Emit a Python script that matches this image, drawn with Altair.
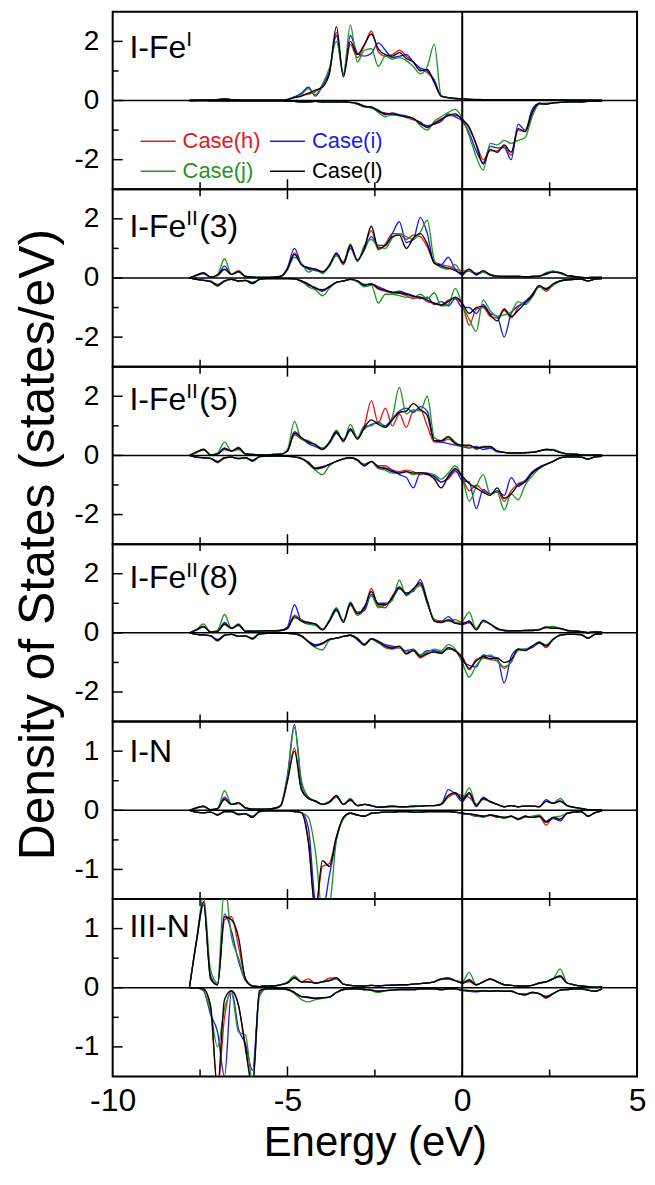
import altair as alt
import pandas as pd

# ---------------- data ----------------
ENERGY = [-7.8, -7.6, -7.4, -7.2, -7.0, -6.8, -6.6, -6.4, -6.2, -6.0,
          -5.8, -5.6, -5.4, -5.2, -5.0, -4.8, -4.6, -4.4, -4.2, -4.0,
          -3.8, -3.6, -3.4, -3.2, -3.0, -2.8, -2.6, -2.4, -2.2, -2.0,
          -1.8, -1.6, -1.4, -1.2, -1.0, -0.8, -0.6, -0.4, -0.2, 0.0,
          0.2, 0.4, 0.6, 0.8, 1.0, 1.2, 1.4, 1.6, 1.8, 2.0,
          2.2, 2.4, 2.6, 2.8, 3.0, 3.2, 3.4, 3.6, 3.8, 4.0]

CASES = ["h", "i", "j", "l"]
CASE_LABELS = ["Case(h)", "Case(i)", "Case(j)", "Case(l)"]
CASE_COLORS = ["#e8191c", "#1b1bf0", "#1f961f", "#000000"]

# ---- I-Fe^I ----
FE1_UP = dict(
    h=[0, 0.01, 0.02, 0.02, 0.04, 0.06, 0.03, 0.02, 0.01, 0.01,
       0.01, 0.01, 0.01, 0.01, 0.03, 0.12, 0.18, 0.22, 0.3, 0.5,
       0.95, 2.3, 0.85, 1.9, 1.45, 1.85, 2.35, 1.65, 1.5, 1.55,
       1.7, 1.5, 1.3, 1.05, 0.95, 0.65, 0.15, 0.1, 0.07, 0.05,
       0.04, 0.03, 0.03, 0.03, 0.03, 0.03, 0.03, 0.03, 0.02, 0.02,
       0.02, 0.02, 0.02, 0.02, 0.02, 0.01, 0.01, 0.01, 0.01, 0.01],
    i=[0, 0.01, 0.02, 0.02, 0.03, 0.04, 0.03, 0.02, 0.01, 0.01,
       0.01, 0.01, 0.01, 0.01, 0.04, 0.12, 0.25, 0.45, 0.15, 0.5,
       1.0, 2.2, 0.9, 2.2, 1.6, 1.5, 1.6, 1.95, 1.7, 1.45,
       1.5, 1.55, 1.3, 1.1, 1.0, 0.7, 0.15, 0.1, 0.06, 0.05,
       0.04, 0.04, 0.03, 0.03, 0.03, 0.03, 0.03, 0.03, 0.03, 0.03,
       0.03, 0.02, 0.02, 0.02, 0.02, 0.01, 0.01, 0.01, 0.01, 0.01],
    j=[0, 0.01, 0.02, 0.03, 0.03, 0.06, 0.03, 0.02, 0.01, 0.01,
       0.01, 0.01, 0.01, 0.01, 0.03, 0.1, 0.2, 0.4, 0.2, 0.55,
       1.1, 2.0, 0.9, 2.55, 1.3, 1.7, 1.75, 1.15, 1.5, 1.4,
       1.45, 1.35, 1.15, 0.9, 1.15, 1.9, 0.15, 0.1, 0.07, 0.05,
       0.04, 0.03, 0.03, 0.03, 0.03, 0.03, 0.03, 0.03, 0.03, 0.03,
       0.02, 0.02, 0.02, 0.02, 0.02, 0.01, 0.01, 0.01, 0.01, 0.01],
    l=[0, 0.01, 0.02, 0.02, 0.03, 0.05, 0.03, 0.02, 0.01, 0.01,
       0.01, 0.01, 0.01, 0.01, 0.03, 0.1, 0.15, 0.25, 0.35, 0.45,
       0.9, 2.5, 0.8, 2.0, 1.55, 1.9, 2.25, 1.75, 1.55, 1.5,
       1.62, 1.42, 1.3, 1.0, 1.05, 0.6, 0.15, 0.1, 0.07, 0.05,
       0.04, 0.03, 0.03, 0.03, 0.03, 0.03, 0.03, 0.03, 0.03, 0.03,
       0.02, 0.02, 0.02, 0.02, 0.02, 0.01, 0.01, 0.01, 0.01, 0.01],
)
FE1_DN = dict(
    h=[0, 0, 0, -0.01, -0.01, -0.01, -0.01, -0.01, -0.01, -0.01,
       -0.01, -0.01, -0.01, -0.01, -0.02, -0.03, -0.04, -0.04, -0.03, -0.05,
       -0.04, -0.05, -0.05, -0.06, -0.12, -0.22, -0.22, -0.38, -0.42, -0.48,
       -0.5, -0.58, -0.65, -0.72, -0.92, -0.75, -0.62, -0.52, -0.5, -0.62,
       -0.95, -1.45, -2.0, -1.7, -1.7, -1.55, -1.85, -1.0, -1.05, -0.45,
       -0.09, -0.13, -0.08, -0.06, -0.05, -0.04, -0.05, -0.03, -0.03, -0.02],
    i=[0, 0, 0, -0.01, -0.01, -0.01, -0.01, -0.01, -0.01, -0.01,
       -0.01, -0.01, -0.01, -0.01, -0.02, -0.03, -0.04, -0.04, -0.03, -0.05,
       -0.04, -0.05, -0.04, -0.06, -0.1, -0.18, -0.25, -0.32, -0.48, -0.42,
       -0.48, -0.52, -0.62, -0.75, -0.85, -0.8, -0.7, -0.45, -0.55, -0.7,
       -1.1, -1.7, -2.1, -1.55, -1.6, -1.6, -2.0, -0.8, -1.0, -0.3,
       -0.1, -0.1, -0.08, -0.06, -0.05, -0.04, -0.05, -0.03, -0.03, -0.02],
    j=[0, 0, 0, -0.01, -0.01, -0.01, -0.01, -0.01, -0.01, -0.01,
       -0.01, -0.01, -0.01, -0.01, -0.02, -0.03, -0.04, -0.04, -0.03, -0.05,
       -0.04, -0.05, -0.04, -0.07, -0.12, -0.2, -0.25, -0.4, -0.55, -0.48,
       -0.52, -0.55, -0.6, -0.85, -1.0, -0.7, -0.55, -0.4, -0.3, -0.6,
       -1.2, -1.9, -2.35, -1.45, -1.5, -1.35, -1.45, -1.35, -1.25, -0.55,
       -0.12, -0.1, -0.08, -0.06, -0.05, -0.04, -0.05, -0.03, -0.03, -0.02],
    l=[0, 0, 0, -0.01, -0.01, -0.01, -0.01, -0.01, -0.01, -0.01,
       -0.01, -0.01, -0.01, -0.01, -0.02, -0.03, -0.04, -0.04, -0.03, -0.05,
       -0.04, -0.05, -0.04, -0.06, -0.1, -0.2, -0.22, -0.35, -0.45, -0.45,
       -0.5, -0.55, -0.6, -0.78, -0.9, -0.78, -0.65, -0.5, -0.45, -0.65,
       -0.9, -1.5, -2.15, -1.65, -1.75, -1.5, -1.75, -0.95, -1.05, -0.4,
       -0.1, -0.12, -0.08, -0.06, -0.05, -0.04, -0.05, -0.03, -0.03, -0.02],
)

# ---- I-Fe^II(3) ----
FE2_UP = dict(
    h=[0, 0.1, 0.15, 0.03, 0.08, 0.28, 0.12, 0.25, 0.05, 0.03,
       0.02, 0.02, 0.03, 0.05, 0.28, 0.85, 0.45, 0.32, 0.3, 0.22,
       0.4, 0.8, 0.45, 1.05, 0.6, 1.05, 1.6, 0.95, 1.15, 1.5,
       1.5, 1.3, 1.45, 1.4, 1.05, 0.55, 0.45, 0.4, 0.3, 0.25,
       0.22, 0.15, 0.2, 0.12, 0.06, 0.05, 0.05, 0.06, 0.04, 0.05,
       0.06, 0.15, 0.2, 0.18, 0.08, 0.05, 0.02, 0.01, 0.02, 0.02],
    i=[0, 0.08, 0.15, 0.03, 0.1, 0.4, 0.12, 0.2, 0.05, 0.03,
       0.02, 0.02, 0.03, 0.05, 0.35, 1.0, 0.45, 0.3, 0.25, 0.2,
       0.45, 0.8, 0.5, 1.0, 0.6, 0.95, 1.4, 1.1, 1.1, 1.5,
       1.9, 1.2, 1.3, 2.05, 1.5, 0.5, 0.45, 0.7, 0.3, 0.1,
       0.3, 0.1, 0.2, 0.1, 0.05, 0.05, 0.05, 0.05, 0.04, 0.05,
       0.06, 0.12, 0.22, 0.18, 0.08, 0.05, 0.02, 0.01, 0.02, 0.02],
    j=[0, 0.1, 0.18, 0.03, 0.12, 0.65, 0.12, 0.2, 0.05, 0.03,
       0.02, 0.02, 0.03, 0.05, 0.3, 0.7, 0.5, 0.2, 0.3, 0.15,
       0.4, 0.75, 0.55, 1.15, 0.55, 1.1, 1.3, 1.05, 1.0, 1.35,
       1.5, 1.4, 1.3, 1.55, 1.95, 0.6, 0.35, 0.3, 0.45, 0.15,
       0.25, 0.15, 0.2, 0.12, 0.05, 0.05, 0.05, 0.05, 0.04, 0.05,
       0.06, 0.18, 0.24, 0.15, 0.08, 0.05, 0.02, 0.01, 0.02, 0.02],
    l=[0, 0.1, 0.17, 0.03, 0.1, 0.3, 0.12, 0.22, 0.05, 0.03,
       0.02, 0.02, 0.03, 0.05, 0.3, 0.8, 0.45, 0.35, 0.3, 0.2,
       0.42, 0.85, 0.5, 1.1, 0.6, 1.0, 1.75, 1.0, 1.1, 1.4,
       1.45, 1.0, 1.35, 1.5, 1.15, 0.5, 0.4, 0.33, 0.25, 0.15,
       0.3, 0.12, 0.25, 0.1, 0.06, 0.05, 0.05, 0.05, 0.04, 0.05,
       0.06, 0.15, 0.2, 0.18, 0.08, 0.05, 0.02, 0.01, 0.02, 0.02],
)
FE2_DN = dict(
    h=[0, -0.05, -0.08, -0.12, -0.28, -0.1, -0.05, -0.1, -0.08, -0.16,
       -0.05, -0.02, -0.02, -0.02, -0.02, -0.03, -0.1, -0.2, -0.35, -0.42,
       -0.3, -0.15, -0.1, -0.05, -0.12, -0.25, -0.22, -0.38, -0.45, -0.5,
       -0.52, -0.6, -0.7, -0.65, -0.8, -0.85, -0.9, -0.75, -0.7, -0.9,
       -1.6, -1.05, -1.0, -1.3, -1.35, -1.1, -1.35, -1.0, -0.8, -0.55,
       -0.28, -0.45, -0.22, -0.1, -0.06, -0.05, -0.04, -0.1, -0.04, -0.02],
    i=[0, -0.05, -0.08, -0.1, -0.22, -0.1, -0.05, -0.12, -0.08, -0.15,
       -0.05, -0.02, -0.02, -0.02, -0.02, -0.03, -0.12, -0.25, -0.32, -0.45,
       -0.28, -0.15, -0.1, -0.05, -0.1, -0.22, -0.2, -0.3, -0.4, -0.5,
       -0.45, -0.52, -0.6, -0.7, -0.65, -0.9, -0.8, -0.95, -0.7, -1.0,
       -1.0, -1.2, -0.9, -1.2, -1.3, -2.0, -1.2, -0.95, -0.8, -0.6,
       -0.3, -0.35, -0.22, -0.1, -0.06, -0.05, -0.04, -0.1, -0.04, -0.02],
    j=[0, -0.05, -0.08, -0.12, -0.25, -0.12, -0.05, -0.1, -0.1, -0.2,
       -0.05, -0.02, -0.02, -0.02, -0.02, -0.03, -0.1, -0.3, -0.4, -0.6,
       -0.35, -0.15, -0.1, -0.05, -0.12, -0.3, -0.25, -0.85, -0.55, -0.55,
       -0.6, -0.65, -0.65, -0.55, -0.7, -0.5, -0.95, -0.9, -0.35, -0.9,
       -1.4, -1.8, -0.75, -1.1, -1.3, -1.25, -1.15, -0.8, -0.9, -0.65,
       -0.3, -0.4, -0.25, -0.12, -0.06, -0.05, -0.04, -0.1, -0.04, -0.02],
    l=[0, -0.05, -0.08, -0.12, -0.25, -0.1, -0.05, -0.1, -0.08, -0.18,
       -0.05, -0.02, -0.02, -0.02, -0.02, -0.03, -0.1, -0.22, -0.35, -0.4,
       -0.3, -0.15, -0.1, -0.05, -0.1, -0.25, -0.2, -0.35, -0.42, -0.48,
       -0.5, -0.55, -0.62, -0.65, -0.75, -0.85, -0.92, -0.8, -0.65, -0.85,
       -1.2, -1.0, -0.95, -1.25, -1.45, -1.05, -1.3, -1.1, -0.85, -0.6,
       -0.25, -0.38, -0.2, -0.1, -0.06, -0.05, -0.04, -0.1, -0.04, -0.02],
)

# ---- I-Fe^II(5) ----
FE3_UP = dict(
    h=[0, 0.1, 0.22, 0.02, 0.05, 0.2, 0.15, 0.28, 0.05, 0.03,
       0.02, 0.02, 0.03, 0.04, 0.15, 0.7, 0.55, 0.45, 0.35, 0.22,
       0.42, 0.75, 0.55, 0.85, 0.6, 1.0, 1.85, 1.1, 1.6, 1.0,
       1.4, 0.95, 1.5, 1.55, 1.0, 0.45, 0.45, 0.55, 0.4, 0.3,
       0.32, 0.25, 0.3, 0.28, 0.15, 0.1, 0.08, 0.08, 0.09, 0.1,
       0.15, 0.2, 0.18, 0.1, 0.05, 0.04, 0.02, 0.01, 0.02, 0.01],
    i=[0, 0.1, 0.2, 0.02, 0.05, 0.25, 0.15, 0.22, 0.05, 0.03,
       0.02, 0.02, 0.03, 0.04, 0.15, 0.8, 0.6, 0.4, 0.3, 0.2,
       0.4, 0.75, 0.5, 0.85, 0.6, 0.9, 1.05, 1.1, 1.0, 1.25,
       1.5, 1.6, 1.45, 1.65, 1.5, 0.5, 0.45, 0.4, 0.35, 0.3,
       0.25, 0.3, 0.2, 0.25, 0.12, 0.1, 0.08, 0.08, 0.09, 0.1,
       0.15, 0.2, 0.18, 0.1, 0.05, 0.04, 0.02, 0.01, 0.02, 0.01],
    j=[0, 0.1, 0.18, 0.02, 0.08, 0.45, 0.15, 0.2, 0.05, 0.03,
       0.02, 0.02, 0.03, 0.04, 0.2, 1.15, 0.55, 0.5, 0.35, 0.25,
       0.45, 0.85, 0.45, 1.05, 0.6, 1.0, 1.0, 1.15, 0.95, 1.3,
       2.3, 1.4, 1.55, 1.5, 2.0, 0.6, 0.5, 0.65, 0.45, 0.3,
       0.35, 0.2, 0.3, 0.3, 0.15, 0.1, 0.08, 0.08, 0.1, 0.12,
       0.15, 0.2, 0.2, 0.12, 0.05, 0.04, 0.02, 0.01, 0.02, 0.01],
    l=[0, 0.12, 0.2, 0.02, 0.05, 0.22, 0.15, 0.25, 0.05, 0.03,
       0.02, 0.02, 0.03, 0.04, 0.15, 0.75, 0.6, 0.45, 0.37, 0.2,
       0.45, 0.8, 0.5, 0.9, 0.55, 0.95, 1.2, 1.05, 0.95, 1.2,
       1.45, 1.5, 1.75, 1.55, 1.35, 0.5, 0.5, 0.62, 0.4, 0.35,
       0.35, 0.25, 0.28, 0.3, 0.15, 0.1, 0.08, 0.08, 0.09, 0.1,
       0.15, 0.2, 0.18, 0.1, 0.05, 0.04, 0.02, 0.01, 0.02, 0.01],
)
FE3_DN = dict(
    h=[0, -0.06, -0.08, -0.1, -0.25, -0.08, -0.06, -0.1, -0.08, -0.2,
       -0.04, -0.02, -0.02, -0.02, -0.03, -0.05, -0.12, -0.22, -0.45, -0.42,
       -0.3, -0.2, -0.12, -0.08, -0.18, -0.35, -0.22, -0.35, -0.35, -0.5,
       -0.55, -0.5, -0.55, -0.65, -0.6, -0.75, -0.9, -0.8, -0.55, -0.75,
       -1.2, -1.0, -1.2, -1.3, -1.2, -1.55, -1.2, -0.95, -0.85, -0.6,
       -0.4, -0.3, -0.2, -0.08, -0.05, -0.05, -0.06, -0.12, -0.05, -0.03],
    i=[0, -0.06, -0.08, -0.1, -0.2, -0.08, -0.06, -0.1, -0.08, -0.16,
       -0.04, -0.02, -0.02, -0.02, -0.03, -0.05, -0.1, -0.25, -0.42, -0.38,
       -0.3, -0.2, -0.12, -0.08, -0.15, -0.3, -0.2, -0.4, -0.42, -0.5,
       -0.65, -0.75, -1.1, -0.6, -0.65, -0.7, -0.9, -0.75, -0.5, -0.85,
       -0.9, -1.8, -1.15, -1.3, -1.2, -1.35, -0.75, -1.05, -0.85, -0.55,
       -0.4, -0.3, -0.2, -0.08, -0.05, -0.05, -0.06, -0.12, -0.05, -0.03],
    j=[0, -0.06, -0.08, -0.1, -0.22, -0.1, -0.06, -0.12, -0.08, -0.18,
       -0.04, -0.02, -0.02, -0.02, -0.03, -0.05, -0.1, -0.3, -0.5, -0.65,
       -0.35, -0.2, -0.12, -0.08, -0.15, -0.35, -0.22, -0.45, -0.5, -0.6,
       -0.6, -0.55, -0.65, -0.6, -0.6, -0.65, -0.8, -0.6, -0.35, -0.75,
       -1.55, -1.05, -0.65, -1.3, -1.25, -1.85, -1.3, -1.5, -1.0, -0.7,
       -0.45, -0.3, -0.2, -0.08, -0.05, -0.05, -0.06, -0.12, -0.05, -0.03],
    l=[0, -0.06, -0.08, -0.1, -0.22, -0.08, -0.06, -0.1, -0.08, -0.18,
       -0.04, -0.02, -0.02, -0.02, -0.03, -0.05, -0.1, -0.25, -0.45, -0.4,
       -0.3, -0.2, -0.12, -0.08, -0.15, -0.35, -0.2, -0.4, -0.45, -0.55,
       -0.6, -0.55, -0.6, -0.58, -0.62, -0.8, -1.1, -0.7, -0.45, -0.7,
       -0.95, -1.1, -1.25, -1.35, -1.1, -1.45, -1.3, -1.0, -0.9, -0.6,
       -0.42, -0.3, -0.2, -0.08, -0.05, -0.05, -0.06, -0.12, -0.05, -0.03],
)

# ---- I-Fe^II(8) ----
FE4_UP = dict(
    h=[0, 0.1, 0.2, 0.03, 0.05, 0.28, 0.15, 0.3, 0.05, 0.06,
       0.06, 0.07, 0.07, 0.08, 0.15, 0.6, 0.42, 0.35, 0.28, 0.12,
       0.42, 0.75, 0.4, 0.95, 0.6, 0.8, 1.5, 0.9, 0.85, 1.25,
       1.5, 1.35, 1.45, 1.65, 1.0, 0.45, 0.4, 0.42, 0.45, 0.35,
       0.35, 0.15, 0.4, 0.28, 0.15, 0.08, 0.07, 0.07, 0.08, 0.08,
       0.1, 0.18, 0.16, 0.15, 0.08, 0.06, 0.04, 0.01, 0.03, 0.02],
    i=[0, 0.1, 0.2, 0.03, 0.05, 0.35, 0.15, 0.25, 0.05, 0.06,
       0.06, 0.07, 0.07, 0.08, 0.2, 0.95, 0.4, 0.3, 0.3, 0.12,
       0.38, 0.75, 0.4, 0.95, 0.7, 0.75, 1.3, 1.0, 1.0, 1.15,
       1.5, 1.35, 1.4, 1.8, 1.1, 0.4, 0.38, 0.55, 0.35, 0.28,
       0.35, 0.12, 0.38, 0.3, 0.12, 0.08, 0.07, 0.07, 0.08, 0.1,
       0.12, 0.2, 0.16, 0.14, 0.08, 0.06, 0.04, 0.01, 0.03, 0.02],
    j=[0, 0.12, 0.3, 0.03, 0.08, 0.62, 0.15, 0.25, 0.05, 0.06,
       0.06, 0.07, 0.07, 0.08, 0.15, 0.5, 0.45, 0.3, 0.25, 0.1,
       0.45, 0.85, 0.4, 1.05, 0.6, 0.9, 1.25, 0.85, 0.95, 1.1,
       1.78, 1.25, 1.45, 1.6, 1.0, 0.45, 0.35, 0.4, 0.35, 0.4,
       0.7, 0.12, 0.4, 0.3, 0.15, 0.08, 0.07, 0.07, 0.08, 0.08,
       0.1, 0.2, 0.22, 0.15, 0.08, 0.06, 0.04, 0.01, 0.03, 0.02],
    l=[0, 0.1, 0.22, 0.03, 0.05, 0.3, 0.15, 0.28, 0.05, 0.06,
       0.06, 0.07, 0.07, 0.08, 0.15, 0.55, 0.4, 0.35, 0.3, 0.1,
       0.4, 0.8, 0.35, 1.0, 0.65, 0.85, 1.4, 0.95, 0.95, 1.2,
       1.55, 1.3, 1.5, 1.7, 1.05, 0.4, 0.35, 0.45, 0.32, 0.3,
       0.4, 0.1, 0.43, 0.3, 0.15, 0.08, 0.07, 0.07, 0.08, 0.08,
       0.1, 0.18, 0.16, 0.15, 0.08, 0.06, 0.04, 0.01, 0.03, 0.02],
)
FE4_DN = dict(
    h=[0, -0.05, -0.07, -0.1, -0.28, -0.08, -0.05, -0.1, -0.1, -0.22,
       -0.03, -0.02, -0.02, -0.02, -0.02, -0.03, -0.1, -0.28, -0.42, -0.38,
       -0.22, -0.18, -0.12, -0.08, -0.22, -0.42, -0.2, -0.32, -0.5, -0.55,
       -0.5, -0.72, -0.6, -0.85, -0.72, -0.62, -0.68, -0.5, -0.62, -0.8,
       -1.25, -0.9, -0.85, -0.9, -0.95, -1.15, -1.0, -0.55, -0.6, -0.45,
       -0.32, -0.5, -0.22, -0.08, -0.05, -0.05, -0.06, -0.18, -0.05, -0.03],
    i=[0, -0.05, -0.07, -0.1, -0.22, -0.08, -0.05, -0.12, -0.1, -0.18,
       -0.03, -0.02, -0.02, -0.02, -0.02, -0.03, -0.12, -0.3, -0.4, -0.35,
       -0.22, -0.18, -0.12, -0.08, -0.18, -0.38, -0.2, -0.28, -0.4, -0.45,
       -0.5, -0.6, -0.55, -0.75, -0.6, -0.6, -0.65, -0.55, -0.6, -0.95,
       -1.1, -1.15, -0.75, -0.8, -0.85, -1.7, -0.8, -0.55, -0.55, -0.5,
       -0.35, -0.42, -0.22, -0.08, -0.05, -0.05, -0.06, -0.18, -0.05, -0.03],
    j=[0, -0.05, -0.08, -0.1, -0.25, -0.1, -0.05, -0.12, -0.12, -0.2,
       -0.03, -0.02, -0.02, -0.02, -0.02, -0.03, -0.1, -0.32, -0.5, -0.58,
       -0.25, -0.18, -0.12, -0.08, -0.25, -0.4, -0.22, -0.35, -0.45, -0.5,
       -0.5, -0.65, -0.6, -0.75, -0.65, -0.55, -0.6, -0.4, -0.55, -1.0,
       -1.5, -1.1, -0.85, -0.75, -0.95, -1.2, -0.95, -0.6, -0.55, -0.45,
       -0.3, -0.4, -0.22, -0.08, -0.05, -0.05, -0.06, -0.18, -0.05, -0.03],
    l=[0, -0.05, -0.07, -0.1, -0.25, -0.08, -0.05, -0.12, -0.1, -0.2,
       -0.03, -0.02, -0.02, -0.02, -0.02, -0.03, -0.1, -0.3, -0.45, -0.35,
       -0.22, -0.18, -0.12, -0.08, -0.2, -0.4, -0.2, -0.3, -0.45, -0.52,
       -0.45, -0.7, -0.6, -0.8, -0.7, -0.65, -0.7, -0.5, -0.6, -0.85,
       -1.2, -0.95, -0.8, -0.87, -0.85, -1.0, -0.9, -0.55, -0.6, -0.45,
       -0.32, -0.45, -0.22, -0.08, -0.05, -0.05, -0.06, -0.18, -0.05, -0.03],
)

# ---- I-N ----
N1_UP = dict(
    h=[0, 0.04, 0.07, 0.01, 0.03, 0.2, 0.1, 0.12, 0.04, 0.02,
       0.02, 0.02, 0.03, 0.07, 0.5, 1.05, 0.35, 0.2, 0.15, 0.1,
       0.15, 0.22, 0.1, 0.17, 0.08, 0.1, 0.08, 0.05, 0.06, 0.07,
       0.06, 0.06, 0.07, 0.07, 0.08, 0.08, 0.1, 0.22, 0.28, 0.25,
       0.22, 0.1, 0.2, 0.14, 0.1, 0.06, 0.08, 0.06, 0.07, 0.07,
       0.06, 0.16, 0.12, 0.15, 0.08, 0.05, 0.03, 0.01, 0.01, 0.01],
    i=[0, 0.04, 0.06, 0.01, 0.03, 0.22, 0.1, 0.12, 0.04, 0.02,
       0.02, 0.02, 0.03, 0.08, 0.6, 1.45, 0.45, 0.22, 0.15, 0.1,
       0.13, 0.24, 0.1, 0.17, 0.08, 0.1, 0.08, 0.06, 0.06, 0.06,
       0.06, 0.06, 0.06, 0.07, 0.08, 0.08, 0.1, 0.35, 0.28, 0.15,
       0.28, 0.06, 0.22, 0.14, 0.1, 0.06, 0.08, 0.06, 0.07, 0.07,
       0.06, 0.18, 0.12, 0.15, 0.08, 0.05, 0.03, 0.01, 0.01, 0.01],
    j=[0, 0.05, 0.06, 0.01, 0.03, 0.33, 0.1, 0.12, 0.04, 0.02,
       0.02, 0.02, 0.03, 0.07, 0.55, 1.4, 0.5, 0.22, 0.16, 0.1,
       0.15, 0.24, 0.1, 0.2, 0.08, 0.1, 0.08, 0.05, 0.06, 0.07,
       0.06, 0.06, 0.07, 0.07, 0.08, 0.08, 0.12, 0.25, 0.3, 0.2,
       0.38, 0.1, 0.18, 0.15, 0.1, 0.06, 0.08, 0.06, 0.07, 0.07,
       0.06, 0.15, 0.12, 0.2, 0.08, 0.05, 0.03, 0.01, 0.01, 0.01],
    l=[0, 0.04, 0.07, 0.01, 0.03, 0.18, 0.1, 0.13, 0.04, 0.02,
       0.02, 0.02, 0.03, 0.07, 0.5, 1.0, 0.35, 0.2, 0.16, 0.1,
       0.14, 0.25, 0.1, 0.18, 0.08, 0.1, 0.08, 0.05, 0.06, 0.07,
       0.06, 0.06, 0.07, 0.07, 0.08, 0.08, 0.1, 0.25, 0.3, 0.18,
       0.3, 0.08, 0.2, 0.15, 0.1, 0.06, 0.08, 0.06, 0.07, 0.07,
       0.06, 0.15, 0.12, 0.16, 0.08, 0.05, 0.03, 0.01, 0.01, 0.01],
)
N1_DN = dict(
    h=[0, -0.03, -0.04, -0.03, -0.08, -0.02, -0.02, -0.07, -0.06, -0.12,
       -0.02, -0.01, -0.01, -0.01, -0.01, -0.02, -0.04, -0.5, -1.7, -0.95,
       -0.9, -0.45, -0.12, -0.05, -0.08, -0.1, -0.05, -0.04, -0.03, -0.03,
       -0.02, -0.02, -0.03, -0.03, -0.02, -0.02, -0.02, -0.02, -0.03, -0.05,
       -0.06, -0.08, -0.1, -0.09, -0.1, -0.12, -0.1, -0.14, -0.1, -0.12,
       -0.1, -0.25, -0.12, -0.15, -0.05, -0.03, -0.02, -0.1, -0.04, -0.01],
    i=[0, -0.03, -0.04, -0.03, -0.07, -0.02, -0.02, -0.06, -0.06, -0.1,
       -0.02, -0.01, -0.01, -0.01, -0.01, -0.02, -0.04, -0.3, -1.55, -1.7,
       -1.1, -0.5, -0.13, -0.05, -0.08, -0.1, -0.05, -0.04, -0.03, -0.03,
       -0.02, -0.02, -0.03, -0.03, -0.02, -0.02, -0.02, -0.02, -0.03, -0.06,
       -0.07, -0.1, -0.1, -0.08, -0.12, -0.12, -0.1, -0.15, -0.1, -0.12,
       -0.1, -0.2, -0.14, -0.18, -0.05, -0.03, -0.02, -0.1, -0.04, -0.01],
    j=[0, -0.03, -0.05, -0.03, -0.08, -0.02, -0.02, -0.08, -0.06, -0.12,
       -0.02, -0.01, -0.01, -0.01, -0.01, -0.02, -0.04, -0.12, -0.7, -1.7,
       -1.6, -0.5, -0.15, -0.05, -0.08, -0.1, -0.05, -0.04, -0.03, -0.03,
       -0.02, -0.02, -0.03, -0.03, -0.02, -0.02, -0.02, -0.02, -0.03, -0.05,
       -0.06, -0.09, -0.12, -0.08, -0.1, -0.14, -0.1, -0.16, -0.12, -0.1,
       -0.08, -0.18, -0.12, -0.1, -0.05, -0.03, -0.02, -0.1, -0.04, -0.01],
    l=[0, -0.03, -0.04, -0.03, -0.08, -0.02, -0.02, -0.07, -0.06, -0.12,
       -0.02, -0.01, -0.01, -0.01, -0.01, -0.02, -0.04, -0.55, -1.7, -0.85,
       -0.95, -0.45, -0.12, -0.05, -0.08, -0.1, -0.05, -0.04, -0.03, -0.03,
       -0.02, -0.02, -0.03, -0.03, -0.02, -0.02, -0.02, -0.02, -0.03, -0.05,
       -0.06, -0.08, -0.1, -0.08, -0.1, -0.12, -0.1, -0.15, -0.1, -0.12,
       -0.1, -0.2, -0.12, -0.15, -0.05, -0.03, -0.02, -0.1, -0.04, -0.01],
)

# ---- III-N ----
N2_UP = dict(
    h=[0.02, 0.8, 1.45, 0.18, 0.05, 1.15, 1.2, 0.7, 0.15, 0.03,
       0.02, 0.03, 0.03, 0.05, 0.08, 0.16, 0.1, 0.15, 0.08, 0.1,
       0.16, 0.17, 0.06, 0.04, 0.03, 0.03, 0.04, 0.03, 0.04, 0.04,
       0.05, 0.05, 0.06, 0.07, 0.08, 0.1, 0.14, 0.15, 0.12, 0.08,
       0.1, 0.05, 0.1, 0.14, 0.1, 0.05, 0.04, 0.03, 0.03, 0.04,
       0.08, 0.1, 0.15, 0.18, 0.08, 0.05, 0.03, 0.02, 0.01, 0.02],
    i=[0.02, 0.78, 1.4, 0.2, 0.05, 1.25, 0.95, 0.45, 0.12, 0.03,
       0.02, 0.03, 0.03, 0.05, 0.08, 0.18, 0.1, 0.1, 0.08, 0.1,
       0.12, 0.15, 0.06, 0.04, 0.03, 0.03, 0.04, 0.03, 0.04, 0.05,
       0.05, 0.05, 0.06, 0.07, 0.08, 0.1, 0.15, 0.17, 0.12, 0.08,
       0.14, 0.05, 0.1, 0.15, 0.1, 0.05, 0.04, 0.03, 0.03, 0.04,
       0.08, 0.1, 0.16, 0.2, 0.08, 0.05, 0.03, 0.02, 0.01, 0.02],
    j=[0.02, 0.82, 1.55, 0.3, 0.08, 1.75, 0.85, 0.5, 0.12, 0.03,
       0.02, 0.03, 0.03, 0.05, 0.1, 0.2, 0.1, 0.1, 0.08, 0.1,
       0.12, 0.15, 0.06, 0.04, 0.03, 0.03, 0.04, 0.03, 0.04, 0.04,
       0.05, 0.05, 0.06, 0.07, 0.08, 0.1, 0.15, 0.15, 0.12, 0.1,
       0.26, 0.05, 0.1, 0.15, 0.1, 0.05, 0.04, 0.03, 0.03, 0.04,
       0.08, 0.1, 0.15, 0.32, 0.08, 0.05, 0.03, 0.02, 0.01, 0.02],
    l=[0.02, 0.8, 1.45, 0.15, 0.05, 1.2, 1.15, 0.85, 0.15, 0.03,
       0.02, 0.03, 0.03, 0.05, 0.08, 0.17, 0.1, 0.1, 0.08, 0.1,
       0.12, 0.17, 0.06, 0.04, 0.03, 0.03, 0.04, 0.03, 0.04, 0.04,
       0.05, 0.05, 0.06, 0.07, 0.08, 0.1, 0.15, 0.15, 0.12, 0.08,
       0.12, 0.05, 0.1, 0.15, 0.1, 0.05, 0.04, 0.03, 0.03, 0.04,
       0.08, 0.1, 0.15, 0.2, 0.08, 0.05, 0.03, 0.02, 0.01, 0.02],
)
N2_DN = dict(
    h=[0, 0, -0.02, -0.35, -1.7, -0.5, -0.05, -0.3, -1.05, -1.6,
       -0.05, -0.02, -0.02, -0.02, -0.03, -0.08, -0.15, -0.16, -0.18, -0.17,
       -0.16, -0.08, -0.03, -0.02, -0.02, -0.03, -0.04, -0.06, -0.05, -0.04,
       -0.03, -0.03, -0.03, -0.02, -0.02, -0.02, -0.03, -0.02, -0.02, -0.04,
       -0.05, -0.06, -0.05, -0.06, -0.05, -0.06, -0.06, -0.1, -0.12, -0.08,
       -0.1, -0.18, -0.1, -0.04, -0.03, -0.02, -0.02, -0.04, -0.06, -0.02],
    i=[0, 0, -0.05, -0.45, -0.75, -1.5, -0.05, -0.7, -0.95, -1.4,
       -0.1, -0.02, -0.02, -0.02, -0.03, -0.08, -0.15, -0.17, -0.18, -0.17,
       -0.16, -0.08, -0.03, -0.02, -0.02, -0.03, -0.04, -0.06, -0.05, -0.04,
       -0.03, -0.03, -0.03, -0.02, -0.02, -0.02, -0.03, -0.02, -0.02, -0.05,
       -0.06, -0.07, -0.05, -0.06, -0.05, -0.06, -0.06, -0.1, -0.12, -0.08,
       -0.1, -0.15, -0.1, -0.04, -0.03, -0.02, -0.02, -0.04, -0.06, -0.02],
    j=[0, 0, -0.05, -0.4, -1.0, -0.35, -0.1, -0.75, -0.8, -1.6,
       -0.15, -0.02, -0.02, -0.02, -0.03, -0.1, -0.2, -0.24, -0.2, -0.18,
       -0.16, -0.08, -0.03, -0.02, -0.02, -0.03, -0.05, -0.08, -0.05, -0.04,
       -0.03, -0.03, -0.03, -0.02, -0.02, -0.02, -0.03, -0.02, -0.02, -0.04,
       -0.05, -0.06, -0.05, -0.06, -0.05, -0.06, -0.06, -0.1, -0.1, -0.08,
       -0.1, -0.14, -0.1, -0.04, -0.03, -0.02, -0.02, -0.04, -0.06, -0.02],
    l=[0, 0, -0.02, -0.3, -1.7, -0.2, -0.05, -0.3, -1.0, -1.7,
       -0.05, -0.02, -0.02, -0.02, -0.03, -0.08, -0.15, -0.16, -0.18, -0.17,
       -0.16, -0.08, -0.03, -0.02, -0.02, -0.03, -0.04, -0.06, -0.05, -0.04,
       -0.03, -0.03, -0.03, -0.02, -0.02, -0.02, -0.03, -0.02, -0.02, -0.04,
       -0.05, -0.06, -0.05, -0.06, -0.05, -0.06, -0.06, -0.1, -0.12, -0.08,
       -0.1, -0.16, -0.1, -0.04, -0.03, -0.02, -0.02, -0.04, -0.06, -0.02],
)

PANEL_NAMES = ["I-Fe", "I-Fe", "I-Fe", "I-Fe", "I-N", "III-N"]
PANEL_SUPS = ["I", "II", "II", "II", "", ""]
PANEL_TAILS = ["", "(3)", "(5)", "(8)", "", ""]
PANEL_UP = [FE1_UP, FE2_UP, FE3_UP, FE4_UP, N1_UP, N2_UP]
PANEL_DN = [FE1_DN, FE2_DN, FE3_DN, FE4_DN, N1_DN, N2_DN]
PANEL_YMAX = [3, 3, 3, 3, 1.5, 1.5]
PANEL_MAJOR = [[-2, 0, 2]] * 4 + [[-1, 0, 1]] * 2
PANEL_MINOR = [[-1, 1]] * 4 + [[-0.5, 0.5]] * 2
X_MAJOR = [-5, 0]
X_MINOR = [-7.5, -2.5, 2.5]

for d in PANEL_UP + PANEL_DN:
    for c in CASES:
        assert len(d[c]) == len(ENERGY), (c, len(d[c]))

# ---------------- layout / style ----------------
FONT = "Liberation Sans, Arial, Helvetica, sans-serif"
W, H = 526, 178
PX_PER_EV = W / 15.0
XS = alt.Scale(domain=[-10, 5], nice=False, zero=False)
LABEL_E = -9.52
LABEL_Y = [1.45, 1.37, 1.55, 1.5, 0.81, 0.86]


def build_panel(k):
    ymax = PANEL_YMAX[k]
    ys = alt.Scale(domain=[-ymax, ymax], nice=False, zero=False)
    last = k == len(PANEL_NAMES) - 1
    if last:
        xaxis = alt.Axis(values=[-10, -5, 0, 5], labelExpr="'' + datum.value",
                         labelFontSize=32, labelPadding=9, labelFlush=False,
                         ticks=False, domain=False, grid=False,
                         labelFont=FONT, labelColor="black",
                         title="Energy (eV)", titleFont=FONT, titleFontSize=42,
                         titleFontWeight="normal", titleColor="black", titlePadding=6)
    else:
        xaxis = None
    ykw = dict(values=PANEL_MAJOR[k], labelExpr="'' + datum.value", labelFontSize=28,
               labelPadding=14, ticks=False, domain=False, grid=False,
               labelFont=FONT, labelColor="black")
    if k == 2:
        yaxis = alt.Axis(title="Density of States (states/eV)", titleFont=FONT,
                         titleFontSize=50, titleFontWeight="normal", titleColor="black",
                         titleX=-74, titleY=H, titleAngle=270, titleAlign="center",
                         titleBaseline="middle", **ykw)
    else:
        yaxis = alt.Axis(title=None, **ykw)

    def X(f):
        return alt.X(f, type="quantitative", scale=XS, axis=xaxis)

    def Y(f):
        return alt.Y(f, type="quantitative", scale=ys, axis=yaxis)

    layers = []
    # DOS curves, one layer per case so black ends on top
    for c, col in zip(CASES, CASE_COLORS):
        rows = []
        for spin, series in (("up", PANEL_UP[k][c]), ("dn", PANEL_DN[k][c])):
            for e, v in zip(ENERGY, series):
                rows.append({"E": e, "dos": v, "spin": spin})
        layers.append(
            alt.Chart(pd.DataFrame(rows))
            .mark_line(strokeWidth=1.35, clip=True, interpolate="monotone", color=col)
            .encode(x=X("E"), y=Y("dos"), detail="spin:N")
        )

    # zero line and Fermi level
    layers.append(alt.Chart(pd.DataFrame({"v": [0.0]}))
                  .mark_rule(color="black", strokeWidth=1.5).encode(y=Y("v")))
    layers.append(alt.Chart(pd.DataFrame({"v": [0.0]}))
                  .mark_rule(color="black", strokeWidth=2).encode(x=X("v")))

    # inward y ticks
    ymaj_len, ymin_len = 10 / PX_PER_EV, 6 / PX_PER_EV
    yt = ([{"y": v, "x1": -10, "x2": -10 + ymaj_len} for v in PANEL_MAJOR[k]] +
          [{"y": v, "x1": -10, "x2": -10 + ymin_len} for v in PANEL_MINOR[k]])
    layers.append(alt.Chart(pd.DataFrame(yt)).mark_rule(color="black", strokeWidth=1.5)
                  .encode(x=X("x1"), x2="x2", y=Y("y")))

    # inward x ticks (bottom, and top except first panel)
    ppu = H / (2 * ymax)
    xt = []
    for v in X_MAJOR + X_MINOR:
        ln = (10 if v in X_MAJOR else 7) / ppu
        xt.append({"x": v, "y1": -ymax, "y2": -ymax + ln})
        if k > 0:
            xt.append({"x": v, "y1": ymax, "y2": ymax - ln})
    layers.append(alt.Chart(pd.DataFrame(xt)).mark_rule(color="black", strokeWidth=1.5)
                  .encode(x=X("x"), y=Y("y1"), y2="y2"))

    # panel label with superscript
    lab = pd.DataFrame({"E": [LABEL_E], "y": [LABEL_Y[k]], "t": [PANEL_NAMES[k]],
                        "s": [PANEL_SUPS[k]], "tail": [PANEL_TAILS[k]]})
    layers.append(alt.Chart(lab).mark_text(align="left", baseline="alphabetic", fontSize=32,
                                           font=FONT, color="black")
                  .encode(x=X("E"), y=Y("y"), text="t:N"))
    if PANEL_SUPS[k]:
        layers.append(alt.Chart(lab).mark_text(align="left", baseline="alphabetic", fontSize=21,
                                               font=FONT, color="black", dx=57, dy=-12)
                      .encode(x=X("E"), y=Y("y"), text="s:N"))
    if PANEL_TAILS[k]:
        layers.append(alt.Chart(lab).mark_text(align="left", baseline="alphabetic", fontSize=32,
                                               font=FONT, color="black", dx=70)
                      .encode(x=X("E"), y=Y("y"), text="tail:N"))

    # legend inside first panel
    if k == 0:
        col_x = [-9.2, -5.5]
        row_y = [-1.38, -2.39]
        leg = []
        for n, (lbl, col) in enumerate(zip(CASE_LABELS, CASE_COLORS)):
            x0 = col_x[n % 2]
            leg.append({"label": lbl, "color": col, "x0": x0, "x1": x0 + 1.0,
                        "xt": x0 + 1.2, "y": row_y[n // 2]})
        legdf = pd.DataFrame(leg)
        layers.append(alt.Chart(legdf).mark_rule(strokeWidth=1.5)
                      .encode(x=X("x0"), x2="x1", y=Y("y"),
                              color=alt.Color("color:N", scale=None)))
        layers.append(alt.Chart(legdf).mark_text(align="left", baseline="middle", fontSize=22,
                                                 font=FONT)
                      .encode(x=X("xt"), y=Y("y"), text="label:N",
                              color=alt.Color("color:N", scale=None)))

    return alt.layer(*layers).properties(width=W, height=H)


chart = (
    alt.vconcat(*[build_panel(k) for k in range(len(PANEL_NAMES))], spacing=0, bounds="flush")
    .properties(padding={"left": 4, "top": 0, "right": 0, "bottom": 0}, background="white")
    .configure_view(stroke="black", strokeWidth=2)
)

chart.save("out.html", embed_options={"renderer": "svg", "actions": False})
